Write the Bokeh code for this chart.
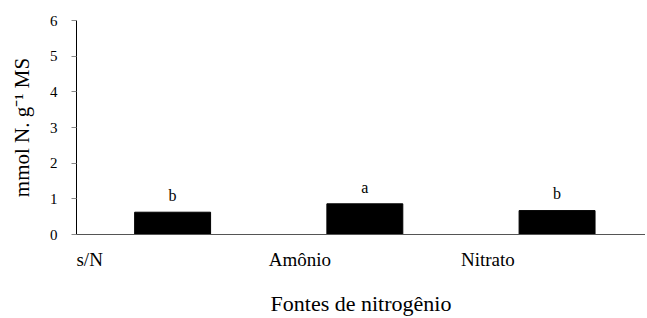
from bokeh.plotting import figure
from bokeh.models import ColumnDataSource, FixedTicker, Range1d, LabelSet
from bokeh.embed import file_html
from bokeh.resources import INLINE

categories = ["s/N", "Amônio", "Nitrato"]
values = [0.625, 0.86, 0.67]
letters = ["b", "a", "b"]
y_ticks = [0, 1, 2, 3, 4, 5, 6]

FONT = "Liberation Serif"
CAT_FONT_PX = 19
BAND_PX = 192.5

# approximate Times/Liberation Serif advance widths (em) to left-align category labels
_W = {"s": .389, "/": .278, "N": .722, "A": .722, "m": .778, "ô": .5, "n": .5,
      "i": .278, "o": .5, "t": .278, "r": .333, "a": .444}
def text_em(t):
    return sum(_W.get(c, .5) for c in t)

n = len(categories)
centers = [i + 0.5 for i in range(n)]
label_pos = [i + text_em(c) * CAT_FONT_PX / 2 / BAND_PX for i, c in enumerate(categories)]

src = ColumnDataSource(dict(x=centers, top=values, lab=letters,
                            ly=[v + 0.47 for v in values]))

p = figure(width=645, height=318, output_backend="svg", toolbar_location=None,
           x_range=Range1d(0, 2.96), y_range=Range1d(0, 6),
           min_border_left=76, min_border_right=0, min_border_top=20, min_border_bottom=84)
p.outline_line_color = None
p.xgrid.visible = False
p.ygrid.visible = False

p.vbar(x="x", top="top", width=0.395, source=src, fill_color="black", line_color="black")

p.add_layout(LabelSet(x="x", y="ly", text="lab", source=src, text_align="center",
                      text_baseline="middle", text_font=FONT, text_font_size="16px",
                      text_color="black"))

# x axis
p.xaxis.ticker = FixedTicker(ticks=label_pos)
p.xaxis.major_label_overrides = {pos: c for pos, c in zip(label_pos, categories)}
p.xaxis.major_label_text_font = FONT
p.xaxis.major_label_text_font_size = f"{CAT_FONT_PX}px"
p.xaxis.major_label_text_color = "black"
p.xaxis.major_label_standoff = 8
p.xaxis.major_tick_line_color = None
p.xaxis.minor_tick_line_color = None
p.xaxis.axis_line_color = "#555555"
p.xaxis.axis_label = "Fontes de nitrogênio"
p.xaxis.axis_label_text_font = FONT
p.xaxis.axis_label_text_font_size = "22px"
p.xaxis.axis_label_text_font_style = "normal"
p.xaxis.axis_label_text_color = "black"
p.xaxis.axis_label_standoff = 18

# y axis
p.yaxis.ticker = FixedTicker(ticks=y_ticks)
p.yaxis.major_label_text_font = FONT
p.yaxis.major_label_text_font_size = "15px"
p.yaxis.major_label_text_color = "black"
p.yaxis.major_label_standoff = 14
p.yaxis.major_tick_in = 0
p.yaxis.major_tick_out = 5
p.yaxis.major_tick_line_color = "#888888"
p.yaxis.minor_tick_line_color = None
p.yaxis.axis_line_color = "black"
p.yaxis.axis_label = "mmol N. g\u207b\u00b9 MS"
p.yaxis.axis_label_text_font = FONT
p.yaxis.axis_label_text_font_size = "21px"
p.yaxis.axis_label_text_font_style = "normal"
p.yaxis.axis_label_text_color = "black"
p.yaxis.axis_label_standoff = 13

open("out.html", "w").write(file_html(p, INLINE))
